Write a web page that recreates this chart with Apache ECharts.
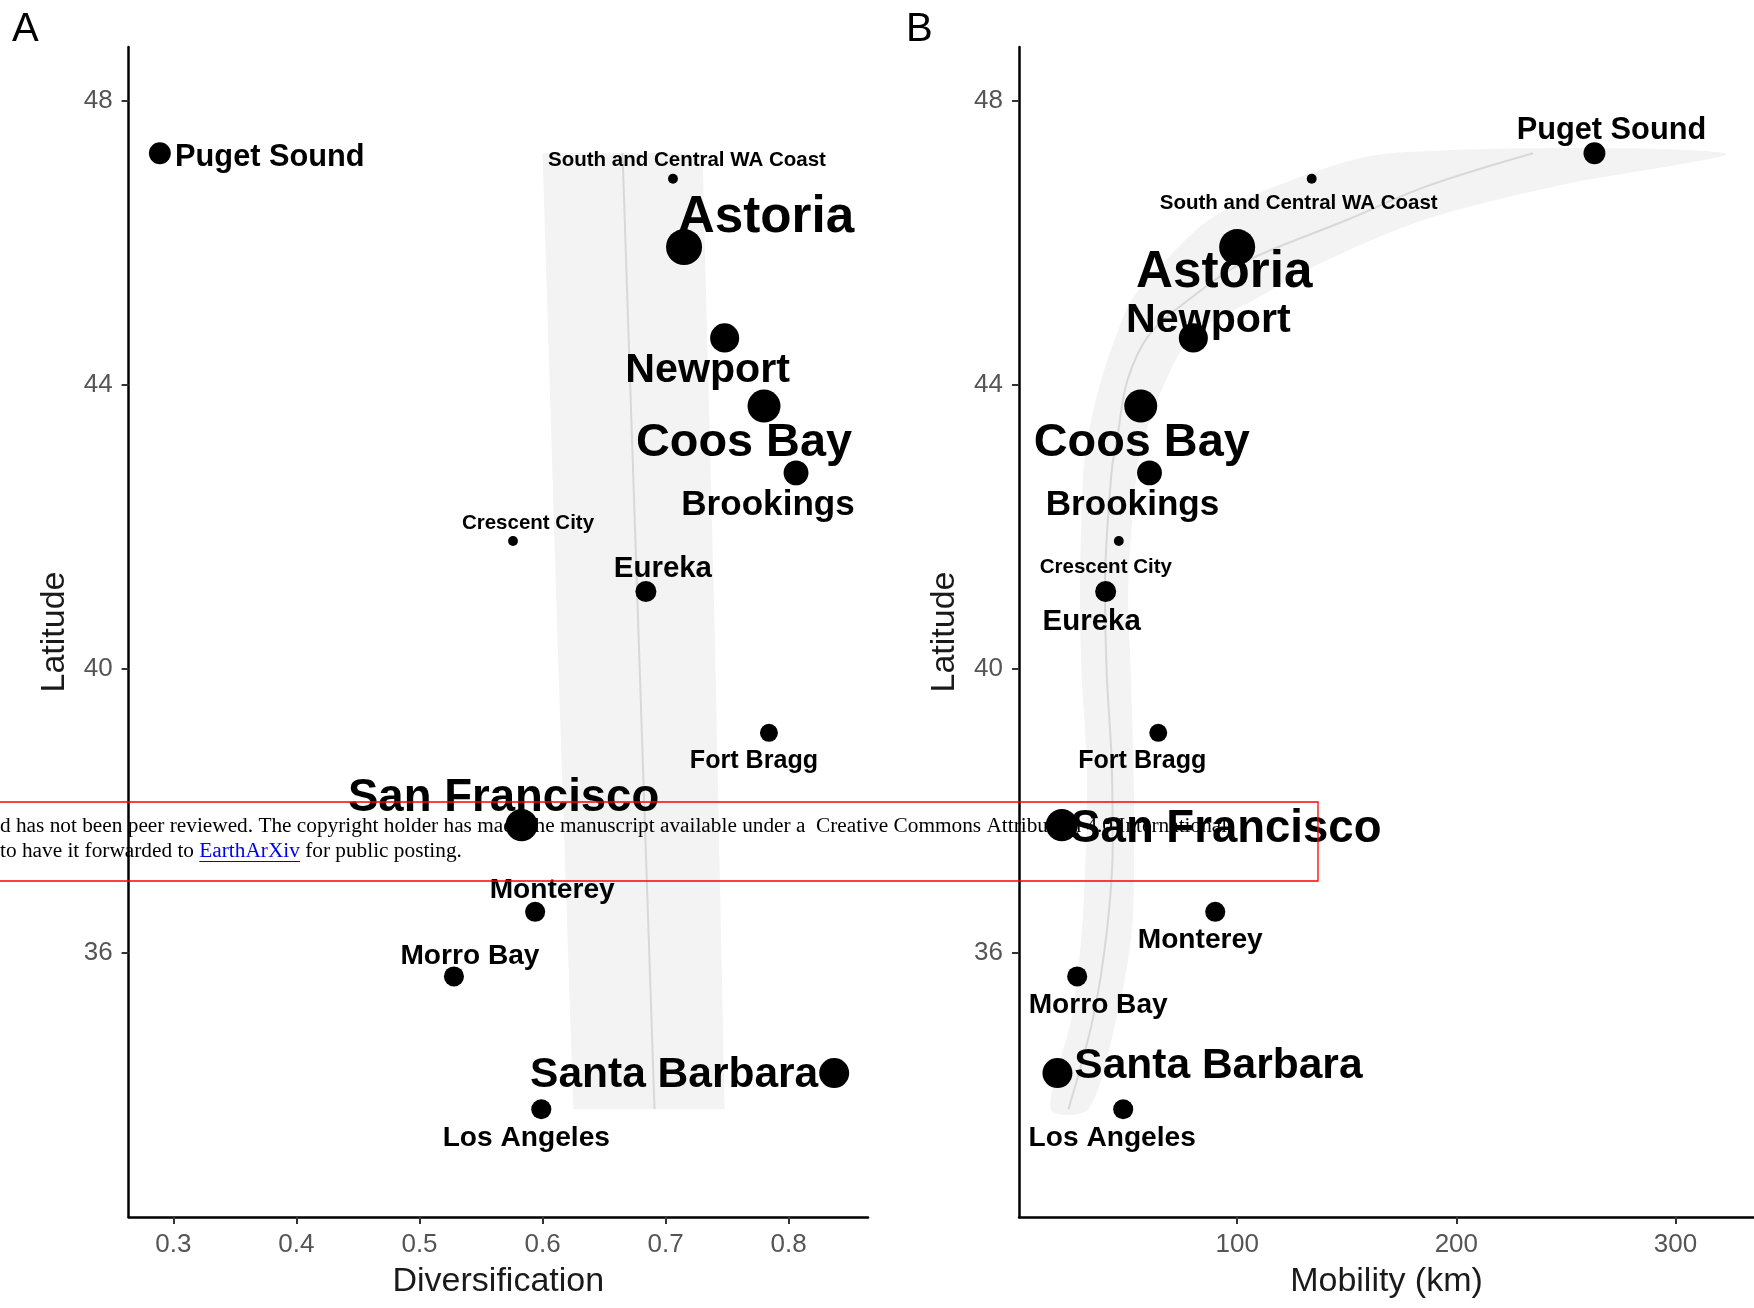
<!DOCTYPE html>
<html>
<head>
<meta charset="utf-8">
<script src="https://cdn.jsdelivr.net/npm/echarts@6/dist/echarts.min.js"></script>
<style>
  html, body { margin: 0; padding: 0; background: #ffffff; }
  #chart { width: 1754px; height: 1308px; }
</style>
</head>
<body>
<div id="chart"></div>
<script>
// Ports along the US West Coast, north to south
const ports = ['Puget Sound', 'South and Central WA Coast', 'Astoria', 'Newport', 'Coos Bay',
  'Brookings', 'Crescent City', 'Eureka', 'Fort Bragg', 'San Francisco', 'Monterey',
  'Morro Bay', 'Santa Barbara', 'Los Angeles'];
const latitude = [47.26, 46.90, 45.94, 44.66, 43.70, 42.76, 41.80, 41.09, 39.10, 37.80, 36.58, 35.67, 34.31, 33.80];
const diversification = [0.289, 0.706, 0.715, 0.748, 0.780, 0.806, 0.576, 0.684, 0.784, 0.583, 0.594, 0.528, 0.837, 0.599];
const mobilityKm = [263, 134, 100, 80, 56, 60, 46, 40, 64, 20, 90, 27, 18, 48];
// relative port weight, drives point and label size
const portWeight = [53, 13, 100, 77, 90, 63, 13, 50, 40, 87, 47, 47, 80, 47];

// trend of diversification against latitude, with its confidence band
const divFitLat = [47.26, 40.5, 33.80];
const divFit = [0.665, 0.678, 0.691];
const divFitLow = [0.600, 0.612, 0.625];
const divFitHigh = [0.730, 0.740, 0.748];

// trend of mobility against latitude, with its confidence band
const mobFitLat = [47.26, 46.79, 46.32, 45.71, 45.20, 44.71, 44.07, 43.30, 42.77, 41.15, 39.93, 38.72, 37.51, 36.30, 35.09, 33.80];
const mobFit = [235, 186, 150, 102, 78, 60, 50, 45.5, 42.7, 39.7, 40.5, 42.7, 43.2, 40.5, 34.3, 23];
const mobFitLow = [169.5, 117, 87, 66, 52, 45, 38, 32, 29.8, 28.3, 29, 31.3, 31, 29.1, 24.5, 15];
const mobFitHigh = [322.5, 244, 185, 138, 108, 80, 67.6, 58, 54.2, 50.3, 51.5, 52.6, 53, 51.9, 45, 32];

// axis ticks
const divTicks = [0.3, 0.4, 0.5, 0.6, 0.7, 0.8];
const mobTicks = [100, 200, 300];
const latTicks = [36, 40, 44, 48];

// label placement (pixel offsets of each label from its point)
const labelOffsetA = {
  'Puget Sound': [110, 1], 'South and Central WA Coast': [14, -21], 'Astoria': [82, -32],
  'Newport': [-17, 30], 'Coos Bay': [-20, 34], 'Brookings': [-28, 29], 'Crescent City': [15, -21],
  'Eureka': [17, -26], 'Fort Bragg': [-15, 25], 'San Francisco': [-18, -30], 'Monterey': [17, -25],
  'Morro Bay': [16, -23], 'Santa Barbara': [-160, -1], 'Los Angeles': [-15, 26]
};
const labelOffsetB = {
  'Puget Sound': [17, -26], 'South and Central WA Coast': [-13, 22], 'Astoria': [-13, 23],
  'Newport': [15, -20], 'Coos Bay': [1, 34], 'Brookings': [-17, 29], 'Crescent City': [-13, 23],
  'Eureka': [-14, 27], 'Fort Bragg': [-16, 25], 'San Francisco': [164, 1], 'Monterey': [-15, 25],
  'Morro Bay': [21, 26], 'Santa Barbara': [161, -10], 'Los Angeles': [-11, 26]
};
// glyphs sit a little above the centre of their text box
const LABEL_BASELINE_SHIFT = 3;

const SANS = "'Liberation Sans', Arial, Helvetica, sans-serif";
const SERIF = "'Liberation Serif', 'Times New Roman', serif";

const pointDiameter = w => 6 + 0.3 * w;
const labelFont = w => Math.max(20.5, 1.45 * pointDiameter(w) - 1);

function scatterSeries(idx, xValues, offsets) {
  return {
    type: 'scatter',
    xAxisIndex: idx, yAxisIndex: idx,
    z: 5,
    silent: true,
    symbol: 'circle',
    symbolSize: v => pointDiameter(v[2]),
    itemStyle: { color: '#000000', opacity: 1 },
    data: ports.map((p, i) => ({
      name: p,
      value: [xValues[i], latitude[i], portWeight[i]],
      label: {
        fontSize: labelFont(portWeight[i]),
        offset: [offsets[p][0], offsets[p][1] + LABEL_BASELINE_SHIFT]
      }
    })),
    label: {
      show: true,
      position: 'inside',
      formatter: '{b}',
      color: '#000000',
      fontWeight: 'bold',
      fontFamily: SANS,
      align: 'center',
      verticalAlign: 'middle'
    },
    emphasis: { disabled: true }
  };
}

function bandSeries(idx, lats, low, high, smooth) {
  return {
    type: 'custom',
    xAxisIndex: idx, yAxisIndex: idx,
    z: 1,
    silent: true,
    clip: true,
    data: lats.map((l, i) => [low[i], l, high[i]]),
    encode: { x: [0, 2], y: 1 },
    renderItem(params, api) {
      if (params.dataIndex !== 0) return null;
      const lower = lats.map((l, i) => api.coord([low[i], l]));
      const upper = lats.map((l, i) => api.coord([high[i], l])).reverse();
      return {
        type: 'polygon',
        shape: { points: lower.concat(upper), smooth: smooth },
        style: { fill: '#f3f3f3', stroke: null }
      };
    }
  };
}

function fitSeries(idx, lats, fit) {
  return {
    type: 'line',
    xAxisIndex: idx, yAxisIndex: idx,
    z: 2,
    silent: true,
    smooth: 0.35,
    symbol: 'none',
    lineStyle: { color: '#d8d8d8', width: 2 },
    data: lats.map((l, i) => [fit[i], l])
  };
}

function xAxisCfg(idx, name, min, max, ticks, fmt) {
  return {
    gridIndex: idx, type: 'value', min: min, max: max,
    name: name, nameLocation: 'middle', nameGap: 48,
    nameTextStyle: { fontSize: 34, color: '#1a1a1a', fontFamily: SANS },
    axisLine: { show: true, onZero: false, lineStyle: { color: '#000000', width: 2.5 } },
    axisTick: { show: true, length: 7, customValues: ticks, lineStyle: { color: '#333333', width: 2 } },
    axisLabel: { show: true, customValues: ticks, margin: 15, fontSize: 26, color: '#555555', fontFamily: SANS, formatter: fmt },
    splitLine: { show: false }
  };
}

function yAxisCfg(idx) {
  return {
    gridIndex: idx, type: 'value', min: 32.283, max: 48.756,
    name: 'Latitude', nameLocation: 'middle', nameGap: 57, nameRotate: 90,
    nameTextStyle: { fontSize: 34, color: '#1a1a1a', fontFamily: SANS },
    axisLine: { show: true, onZero: false, lineStyle: { color: '#000000', width: 2.5 } },
    axisTick: { show: true, length: 7, customValues: latTicks, lineStyle: { color: '#333333', width: 2 } },
    axisLabel: { show: true, customValues: latTicks, margin: 16, fontSize: 26, color: '#555555', fontFamily: SANS },
    splitLine: { show: false }
  };
}

// measure the lead-in of the link line so the link can be underlined
const NOTE_FONT = '21.3px ' + SERIF;
const measureCtx = document.createElement('canvas').getContext('2d');
measureCtx.font = NOTE_FONT;
const linkLead = 'to have it forwarded to ';
const linkWord = 'EarthArXiv';
const leadW = measureCtx.measureText(linkLead).width;
const linkW = measureCtx.measureText(linkWord).width;

const chart = echarts.init(document.getElementById('chart'), null, { renderer: 'canvas' });

chart.setOption({
  animation: false,
  backgroundColor: '#ffffff',
  textStyle: { fontFamily: SANS },
  grid: [
    { left: 128.6, top: 47, width: 739.4, height: 1170, outerBoundsMode: 'none' },
    { left: 1019, top: 47, width: 735, height: 1170, outerBoundsMode: 'none' }
  ],
  xAxis: [
    xAxisCfg(0, 'Diversification', 0.2636, 0.8645, divTicks, v => v.toFixed(1)),
    xAxisCfg(1, 'Mobility (km)', 0.46, 335.8, mobTicks, v => String(v))
  ],
  yAxis: [yAxisCfg(0), yAxisCfg(1)],
  series: [
    bandSeries(0, divFitLat, divFitLow, divFitHigh, 0),
    fitSeries(0, divFitLat, divFit),
    scatterSeries(0, diversification, labelOffsetA),
    bandSeries(1, mobFitLat, mobFitLow, mobFitHigh, 0.3),
    fitSeries(1, mobFitLat, mobFit),
    scatterSeries(1, mobilityKm, labelOffsetB)
  ],
  graphic: {
    elements: [
      { type: 'text', left: 12, top: 10, z: 10,
        style: { text: 'A', font: '40px ' + SANS, fill: '#000000' } },
      { type: 'text', left: 906, top: 10, z: 10,
        style: { text: 'B', font: '40px ' + SANS, fill: '#000000' } },
      { type: 'text', x: 0, y: 826, z: 3, silent: true,
        style: { text: 'd has not been peer reviewed. The copyright holder has made the manuscript available under a  Creative Commons Attribution 4.0 International',
          font: NOTE_FONT, fill: '#000000', verticalAlign: 'middle', align: 'left' } },
      { type: 'text', x: 0, y: 851, z: 3, silent: true,
        style: { text: linkLead, font: NOTE_FONT, fill: '#000000', verticalAlign: 'middle', align: 'left' } },
      { type: 'text', x: leadW, y: 851, z: 3, silent: true,
        style: { text: linkWord, font: NOTE_FONT, fill: '#0000ee', verticalAlign: 'middle', align: 'left' } },
      { type: 'line', z: 3, silent: true,
        shape: { x1: leadW, y1: 861.5, x2: leadW + linkW, y2: 861.5 },
        style: { stroke: '#0000ee', lineWidth: 1.2 } },
      { type: 'text', x: leadW + linkW, y: 851, z: 3, silent: true,
        style: { text: ' for public posting.', font: NOTE_FONT, fill: '#000000', verticalAlign: 'middle', align: 'left' } },
      { type: 'rect', z: 20, silent: true,
        shape: { x: -2, y: 802, width: 1320, height: 79 },
        style: { fill: null, stroke: '#ff0000', lineWidth: 1.3 } }
    ]
  }
});
</script>
</body>
</html>
